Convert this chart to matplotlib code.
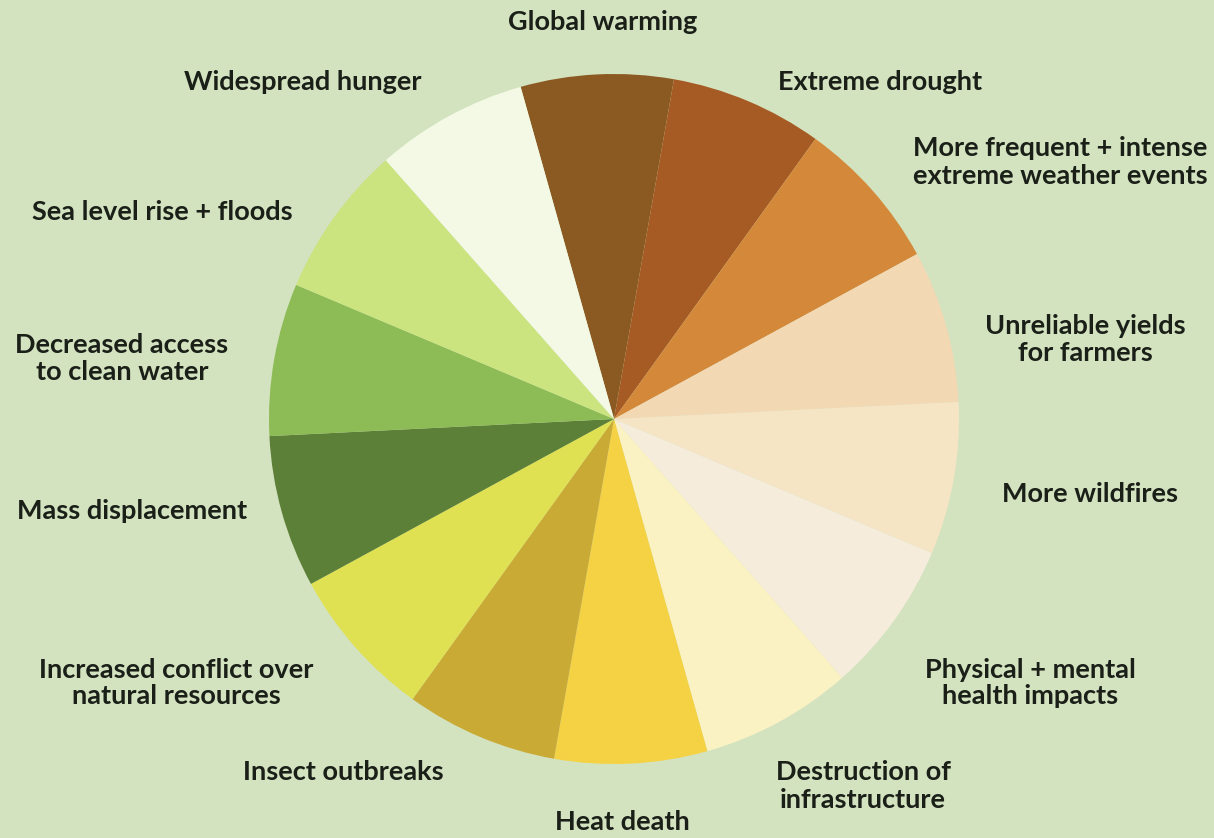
import matplotlib
matplotlib.use("Agg")
import matplotlib.pyplot as plt

plt.rcParams['font.family'] = ['Lato', 'DejaVu Sans']

labels = ["Global warming", "Extreme drought",
          "More frequent + intense\nextreme weather events",
          "Unreliable yields\nfor farmers", "More wildfires",
          "Physical + mental\nhealth impacts", "Destruction of\ninfrastructure",
          "Heat death", "Insect outbreaks",
          "Increased conflict over\nnatural resources", "Mass displacement",
          "Decreased access\nto clean water", "Sea level rise + floods",
          "Widespread hunger"]
shares = [1, 1, 1, 1, 1, 1, 1, 1, 1, 1, 1, 1, 1, 1]
colors = ["#8b5a22", "#a65b25", "#d4893a", "#f3d8b4", "#f6e5c5",
          "#f6ecdc", "#fbf2c4", "#f5d244", "#c9aa35", "#dfe153",
          "#5d8038", "#8dbb55", "#cbe47f", "#f3f9e5"]

# label anchor points in pixel space (x, y from top)
label_pos = [(603, 22), (880, 82), (1060, 162), (1085, 340), (1090, 494),
             (1030, 683), (863, 786), (622, 822), (343, 772), (176, 683),
             (132, 511), (122, 359), (162, 212), (303, 82)]

W, H = 1214, 838
fig = plt.figure(figsize=(W / 100, H / 100), dpi=100)
fig.patch.set_facecolor("#d3e2bf")
ax = fig.add_axes([0, 0, 1, 1])

ax.pie(shares, colors=colors, center=(614, H - 419), radius=345,
       startangle=105.7, counterclock=False,
       wedgeprops=dict(linewidth=0), frame=True)
ax.set_xlim(0, W)
ax.set_ylim(0, H)
ax.set_aspect("equal")
ax.axis("off")

for lab, (x, y) in zip(labels, label_pos):
    ax.text(x, H - y, lab, ha="center", va="center", fontsize=19.5,
            fontweight="bold", color="#1a1f18", linespacing=1.15)

fig.savefig("out.png", dpi=100, facecolor=fig.get_facecolor())
